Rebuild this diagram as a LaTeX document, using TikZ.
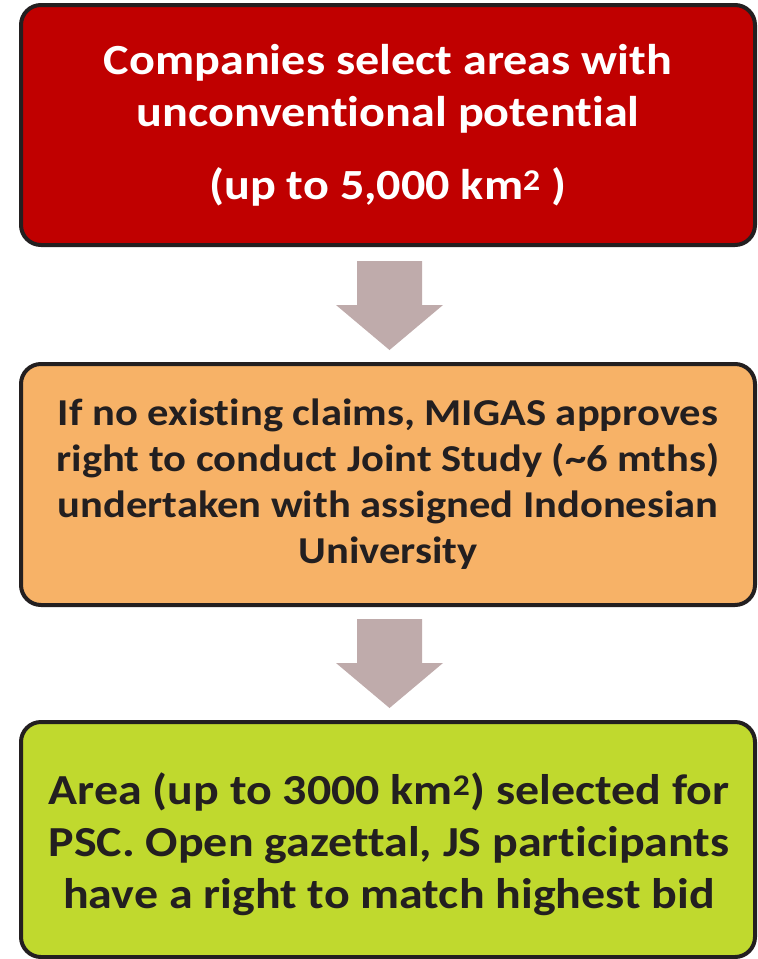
\documentclass[tikz,border=0pt]{standalone}
\usepackage{fontspec}
\setmainfont[Ligatures=NoCommon, FakeStretch=1.12]{Carlito}
\definecolor{boxred}{RGB}{192,0,0}
\definecolor{boxorange}{RGB}{247,178,103}
\definecolor{boxgreen}{RGB}{192,217,46}
\definecolor{edgec}{RGB}{35,31,32}
\definecolor{arrowc}{RGB}{191,171,171}
\begin{document}
\begin{tikzpicture}[x=1pt,y=-1pt,
  stagebox/.style={draw=edgec, line width=4pt, rounded corners=20pt,
    minimum width=734pt, align=center, inner sep=0pt, font=\bfseries},
  downarrow/.style={fill=arrowc, draw=none}]
\useasboundingbox (0,0) rectangle (758,959);
\node[stagebox, fill=boxred, text=white, minimum height=240pt,
  font=\bfseries\fontsize{43}{52}\selectfont] (b1) at (388,125)
  {Companies select areas with\\unconventional potential\\[21pt](up to 5,000 km\textsuperscript{2} )};
\node[stagebox, fill=boxorange, text=edgec, minimum height=241pt,
  font=\bfseries\fontsize{38}{46}\selectfont] (b2) at (388,484.5)
  {If no existing claims, MIGAS approves\\right to conduct Joint Study (\textasciitilde6 mths)\\undertaken with assigned Indonesian\\University};
\node[stagebox, fill=boxgreen, minimum height=235pt] (b3) at (388,839.5) {};
\node[align=center, inner sep=0pt, text=edgec,
  font=\bfseries\fontsize{42.8}{52}\selectfont] (t3) at (389,844)
  {Area (up to 3000 km\textsuperscript{2}) selected for\\PSC. Open gazettal, JS participants\\have a right to match highest bid};
\coordinate (a1) at (389.5,261);
\coordinate (a2) at (389.5,619);
\foreach \a in {a1,a2}{
  \fill[downarrow] ([xshift=-32.5pt]\a) -- ([xshift=32.5pt]\a)
    -- ([xshift=32.5pt,yshift=-44pt]\a) -- ([xshift=53.5pt,yshift=-44pt]\a)
    -- ([yshift=-89pt]\a) -- ([xshift=-53.5pt,yshift=-44pt]\a)
    -- ([xshift=-32.5pt,yshift=-44pt]\a) -- cycle;
}
\end{tikzpicture}
\end{document}
